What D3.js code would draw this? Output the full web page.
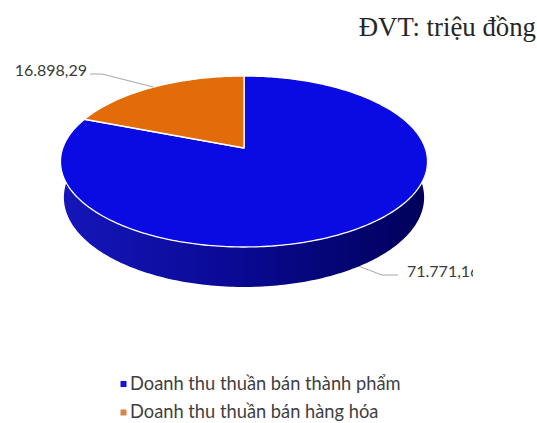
<!DOCTYPE html>
<html>
<head>
<meta charset="utf-8">
<script src="https://cdn.jsdelivr.net/npm/d3@7"></script>
<style>
  html, body { margin: 0; padding: 0; background: #ffffff; }
  svg { display: block; }
</style>
</head>
<body>
<svg id="chart" width="537" height="423"></svg>
<script>
// Revenue split (million VND)
const categories = ["Doanh thu thuần bán thành phẩm", "Doanh thu thuần bán hàng hóa"];
const values = [71771.16, 16898.29];
const sliceColors = ["#0a0ae2", "#e36c0a"];
const legendColors = ["#1414d8", "#d9864a"];
const unitNote = "ĐVT: triệu đồng";

// Vietnamese number format: 71.771,16
const vnLocale = d3.formatLocale({ decimal: ",", thousands: ".", grouping: [3], currency: ["", ""] });
const fmt = vnLocale.format(",.2f");

const svg = d3.select("#chart");
const W = 537, H = 423;

// 3D pie camera: tilt, distance, focal length, disc thickness
const cx = 244, cy = 148;
const sinT = 0.46, cosT = Math.sqrt(1 - sinT * sinT);
const camD = 5.623, focal = 1019, depth = 0.225;

// project a point of the unit disc (angle a clockwise from 12 o'clock, height y) to screen
function project(a, y) {
  const x = Math.sin(a), z = -Math.cos(a);
  const yc = y * cosT - z * sinT;
  const zc = camD - y * sinT - z * cosT;
  return [cx + focal * x / zc, cy - focal * yc / zc];
}
function arcPoints(a0, a1, y) {
  const n = Math.max(2, Math.ceil(Math.abs(a1 - a0) / (Math.PI / 180)));
  return d3.range(n + 1).map(i => project(a0 + (a1 - a0) * i / n, y));
}
const line = d3.line();

const pie = d3.pie().sort(null).value(d => d);
const arcs = pie(values);

const defs = svg.append("defs");
const grad = defs.append("linearGradient")
  .attr("id", "wallShade").attr("gradientUnits", "userSpaceOnUse")
  .attr("x1", 62).attr("y1", 0).attr("x2", 428).attr("y2", 0);
grad.append("stop").attr("offset", 0).attr("stop-color", "#1616ba");
grad.append("stop").attr("offset", 0.45).attr("stop-color", "#0a0a96");
grad.append("stop").attr("offset", 1).attr("stop-color", "#00005a");

const orangeWall = defs.append("linearGradient")
  .attr("id", "wallShade1").attr("gradientUnits", "userSpaceOnUse")
  .attr("x1", 62).attr("y1", 0).attr("x2", 428).attr("y2", 0);
orangeWall.append("stop").attr("offset", 0).attr("stop-color", "#b85608");
orangeWall.append("stop").attr("offset", 1).attr("stop-color", "#6a3000");

defs.append("clipPath").attr("id", "plotClip")
  .append("rect").attr("x", 0).attr("y", 0).attr("width", 473).attr("height", H);

const g = svg.append("g");

// outer walls (front half only is visible)
const frontA = Math.PI / 2, frontB = 3 * Math.PI / 2;
arcs.forEach((d, i) => {
  const a0 = Math.max(d.startAngle, frontA), a1 = Math.min(d.endAngle, frontB);
  if (a1 <= a0) return;
  const pts = arcPoints(a0, a1, 0).concat(arcPoints(a1, a0, -depth));
  g.append("path")
    .attr("d", line(pts) + "Z")
    .attr("fill", i === 0 ? "url(#wallShade)" : "url(#wallShade1)");
});

// top faces
arcs.forEach((d, i) => {
  const p = [[cx, cy]].concat(arcPoints(d.startAngle, d.endAngle, 0));
  g.append("path")
    .attr("d", line(p) + "Z")
    .attr("fill", sliceColors[i])
    .attr("stroke", "#ffffff")
    .attr("stroke-width", 1.3)
    .attr("stroke-linejoin", "round");
});

// data labels with leader lines
const labelFont = "Lato, 'Open Sans', sans-serif";
const mid = d => (d.startAngle + d.endAngle) / 2;

// first slice: label at lower right, leader from the base of the wall
{
  const d = arcs[0];
  const a = project(mid(d), -depth);
  const lg = svg.append("g").attr("clip-path", "url(#plotClip)");
  lg.append("path")
    .attr("d", line([a, [382, 275], [398, 275]]))
    .attr("fill", "none").attr("stroke", "#a6a6a6").attr("stroke-width", 1);
  lg.append("text")
    .attr("x", 407).attr("y", 277)
    .attr("font-family", labelFont).attr("font-size", 16)
    .attr("fill", "#3a3a3a")
    .text(fmt(d.value));
}
// second slice: label at upper left, leader from the top rim
{
  const d = arcs[1];
  const a = project(mid(d), 0);
  svg.append("path")
    .attr("d", line([a, [102, 74], [90, 74]]))
    .attr("fill", "none").attr("stroke", "#a6a6a6").attr("stroke-width", 1);
  svg.append("text")
    .attr("x", 87).attr("y", 76).attr("text-anchor", "end")
    .attr("font-family", labelFont).attr("font-size", 16)
    .attr("fill", "#3a3a3a")
    .text(fmt(d.value));
}

// unit note
svg.append("text")
  .attr("x", 536).attr("y", 36).attr("text-anchor", "end")
  .attr("font-family", "'Liberation Serif', serif").attr("font-size", 26.8)
  .attr("fill", "#262626")
  .text(unitNote);

// legend
const legend = svg.append("g");
categories.forEach((c, i) => {
  const y = 384 + i * 28.5;
  legend.append("rect")
    .attr("x", 120.5).attr("y", y - 3).attr("width", 6).attr("height", 6)
    .attr("fill", legendColors[i]);
  legend.append("text")
    .attr("x", 130).attr("y", y + 5.5)
    .attr("font-family", labelFont).attr("font-size", 18.3)
    .attr("fill", "#404040")
    .text(c);
});
</script>
</body>
</html>
